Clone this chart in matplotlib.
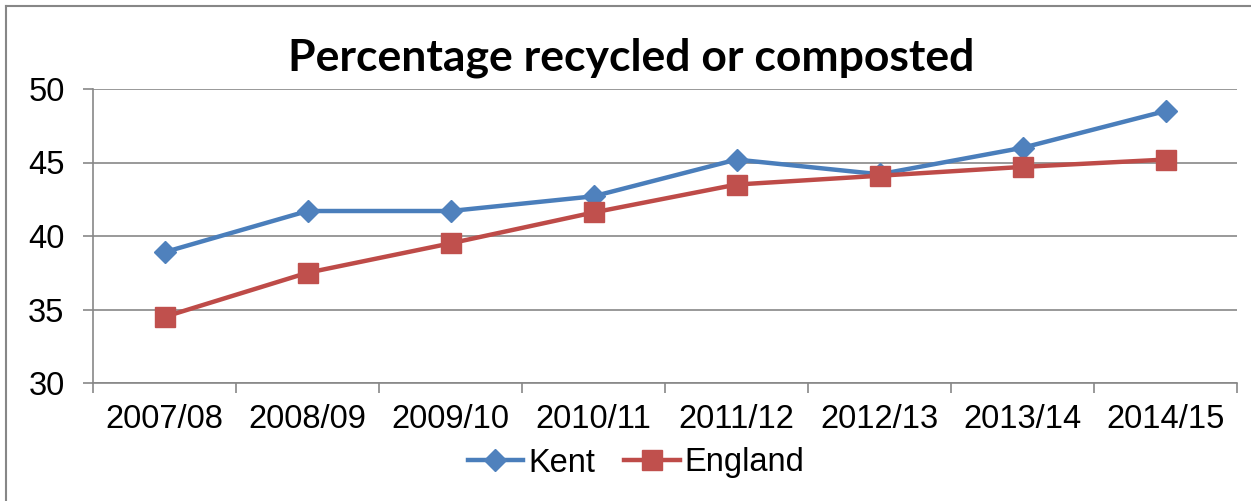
import matplotlib
matplotlib.use("Agg")
import matplotlib.pyplot as plt
from matplotlib.lines import Line2D

years = ['2007/08', '2008/09', '2009/10', '2010/11', '2011/12', '2012/13', '2013/14', '2014/15']
kent = [38.9, 41.7, 41.7, 42.7, 45.2, 44.2, 46.0, 48.5]
england = [34.5, 37.5, 39.5, 41.6, 43.5, 44.1, 44.7, 45.2]

W, H = 1251, 501
plt.rcParams['font.family'] = ['Liberation Sans', 'DejaVu Sans']

fig = plt.figure(figsize=(W / 100, H / 100), dpi=100)
ax = fig.add_axes([93 / W, 1 - 383 / H, (1237 - 93) / W, (383 - 89) / H])

grey = '#878787'
x = range(len(years))
ax.plot(x, kent, color='#4A7EBB', lw=3.2, marker='D', ms=11,
        mfc='#4F81BD', mec='#4F81BD', label='Kent', zorder=3)
ax.plot(x, england, color='#BE4B48', lw=3.2, marker='s', ms=15,
        mfc='#C0504D', mec='#C0504D', label='England', zorder=3)

ax.set_xlim(-0.5, len(years) - 0.5)
ax.set_ylim(30, 50)
ax.set_yticks([30, 35, 40, 45, 50])
ax.yaxis.grid(True, color=grey, lw=1.2)
ax.set_axisbelow(True)

# tick marks sit between categories, labels under the category centres
ax.set_xticks([i - 0.5 for i in range(len(years) + 1)])
ax.set_xticklabels([])
ax.set_xticks(list(x), minor=True)
ax.set_xticklabels(years, minor=True)
ax.tick_params(axis='x', which='major', length=7.5, width=1.2, color=grey, direction='out')
ax.tick_params(axis='x', which='minor', length=0, pad=15, labelsize=23.5)
ax.tick_params(axis='y', length=7.5, width=1.2, color=grey, pad=13, labelsize=23.5)

for side in ['top', 'right']:
    ax.spines[side].set_visible(False)
for side in ['left', 'bottom']:
    ax.spines[side].set_color(grey)
    ax.spines[side].set_linewidth(1.2)

fig.text(631 / W, 1 - 58 / H, 'Percentage recycled or composted',
         ha='center', va='center', fontsize=32, fontweight='bold', family=['Lato', 'DejaVu Sans'])

fig.legend(loc='center', bbox_to_anchor=(636 / W, 1 - 463 / H), ncol=2, frameon=False,
           fontsize=23.5, handlelength=1.7, handletextpad=0.15, columnspacing=0.9,
           borderpad=0, borderaxespad=0)

# outer chart border (left and top edges)
fig.add_artist(Line2D([6 / W, 6 / W], [0, 1 - 6 / H], color=grey, lw=1.5))
fig.add_artist(Line2D([6 / W, 1], [1 - 6 / H, 1 - 6 / H], color=grey, lw=1.5))

fig.savefig('out.png', dpi=100)
